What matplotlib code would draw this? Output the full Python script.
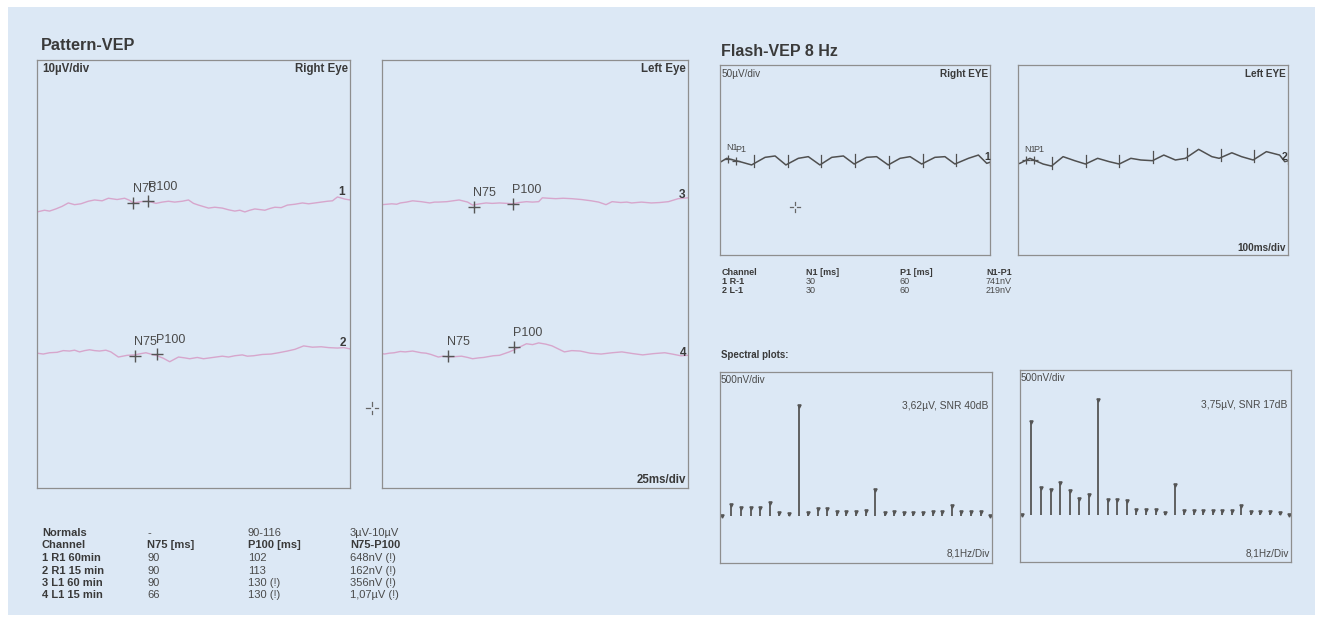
import matplotlib
matplotlib.use('Agg')
import matplotlib.pyplot as plt
import numpy as np
from matplotlib.patches import Rectangle
from matplotlib.lines import Line2D

plt.rcParams['font.family'] = ['Liberation Sans', 'DejaVu Sans']

# ---------------- data ----------------
# Pattern-VEP traces (time in ms, amplitude in uV)
PAT_T1 = [0, 6, 10, 15, 20, 25, 30, 35, 41, 46, 52, 57, 64, 70, 74, 77, 83, 89, 95, 100, 105, 110, 116, 121, 125, 129, 137, 142, 148, 153, 158, 162, 166, 170, 174, 182, 186, 190, 195, 200, 206, 212, 217, 222, 227, 232, 236, 240, 246, 250]
PAT_V1 = [-1.6, -1.2, -1.4, -0.9, -0.3, 0.5, 0.1, 0.3, 0.9, 1.2, 1.0, 1.6, 1.3, 1.6, 1.1, 0.5, 0.8, 0.9, 0.4, 0.7, 0.9, 0.7, 0.9, 1.2, 0.4, 0.0, -0.7, -0.5, -0.7, -1.1, -1.4, -1.2, -1.6, -1.2, -0.9, -1.2, -0.8, -0.5, -0.6, 0.0, 0.2, 0.5, 0.3, 0.5, 0.7, 0.9, 1.0, 1.9, 1.4, 1.2]
PAT_T2 = [0, 5, 10, 16, 21, 26, 30, 34, 38, 42, 46, 50, 55, 59, 65, 72, 78, 83, 87, 92, 96, 101, 106, 113, 118, 122, 128, 133, 138, 143, 148, 153, 158, 164, 168, 173, 180, 187, 193, 200, 206, 213, 220, 227, 233, 240, 245, 250]
PAT_V2 = [-0.3, -0.5, -0.2, -0.1, 0.3, 0.2, 0.4, 0.0, 0.3, 0.5, 0.3, 0.2, 0.4, 0.0, -1.2, -0.8, -0.7, -0.4, -0.2, -0.6, -0.9, -1.5, -2.3, -1.2, -1.4, -1.6, -1.3, -1.6, -1.4, -1.2, -1.0, -1.2, -0.9, -0.7, -1.0, -0.9, -0.6, -0.5, -0.2, 0.2, 0.6, 1.4, 1.1, 1.2, 1.0, 0.9, 1.0, 0.7]
PAT_T3 = [0, 8, 12, 15, 20, 25, 32, 39, 43, 46, 53, 58, 63, 70, 74, 80, 85, 90, 96, 102, 107, 112, 118, 123, 128, 131, 136, 142, 148, 155, 163, 171, 177, 183, 188, 195, 200, 204, 212, 220, 227, 234, 242, 250]
PAT_V3 = [-0.9, -0.7, -0.8, -0.5, -0.3, 0.0, -0.2, -0.5, -0.3, -0.3, -0.2, 0.0, 0.2, -0.3, -1.0, -0.7, -0.5, -0.6, -0.5, -0.6, -0.7, -0.4, -0.2, -0.3, -0.2, 0.7, 0.6, 0.5, 0.6, 0.5, 0.3, 0.0, -0.3, -0.9, -0.2, -0.4, -0.3, -0.5, -0.3, -0.5, -0.4, -0.2, 0.5, 0.7]
PAT_T4 = [0, 2, 6, 10, 15, 19, 25, 32, 36, 40, 46, 50, 55, 60, 65, 70, 74, 79, 83, 91, 96, 100, 104, 108, 113, 118, 123, 128, 134, 139, 144, 149, 155, 162, 170, 179, 188, 196, 205, 213, 222, 231, 237, 244, 250]
PAT_V4 = [-0.4, -0.5, -0.3, -0.2, 0.1, 0.0, 0.2, -0.2, -0.3, -0.6, -1.2, -1.0, -1.2, -1.1, -1.0, -1.3, -1.6, -1.4, -1.3, -0.9, -0.8, -0.4, 0.0, 0.5, 1.2, 1.9, 1.7, 2.1, 1.8, 1.4, 0.7, 0.0, 0.3, 0.2, -0.3, -0.5, -0.2, 0.0, -0.4, -0.7, -0.4, -0.2, -0.5, -0.9, -0.8]

# Pattern-VEP peak markers (ms, uV) for channels 1..4
N75_T = [77, 78, 75, 54]
N75_V = [0.4, -0.9, -1.4, -0.9]
P100_T = [89, 96, 107, 108]
P100_V = [1.0, -0.5, -0.7, 1.2]

# Flash-VEP traces (ms, uV)
FL_T1 = [4, 25, 74, 117, 167, 204, 244, 290, 327, 370, 414, 457, 497, 543, 580, 623, 667, 704, 747, 796, 833, 870, 920, 957, 988, 1000]
FL_V1 = [-4.4, 4.4, -4.4, -13, 7, 10.6, -13, 4.4, 8.8, -13, 7, 10.6, -10.6, 7, 8.8, -13, 4.4, 8.8, -10.6, 7, 8.8, -10.6, 4.4, 13, -8.8, -6]
FL_T2 = [0, 7, 44, 93, 124, 167, 210, 250, 295, 338, 375, 418, 455, 498, 540, 583, 620, 669, 718, 745, 792, 828, 871, 920, 969, 988, 1000]
FL_V2 = [-10, -8.8, 4.4, -10.6, -16, 8.8, -1.8, -10.6, 4.4, -4.4, -10.6, 4.4, 0, -1.8, 13, 0, 4.4, 28, 8.8, 4.4, 19, 8.8, 0, 22, 13, -4.4, -2]
FL_STIM = [125, 250, 375, 500, 625, 750, 875, 1000]
FL_N1 = 30
FL_P1 = 60

# Spectral plots (uV per bin)
SPEC_R = [0, 0.35, 0.24, 0.24, 0.26, 0.42, 0.09, 0.05, 3.62, 0.09, 0.22, 0.22, 0.11, 0.13, 0.14, 0.16, 0.86, 0.09, 0.14, 0.08, 0.08, 0.08, 0.11, 0.14, 0.33, 0.11, 0.11, 0.11, 0]
SPEC_L = [0, 3.03, 0.87, 0.81, 1.03, 0.78, 0.52, 0.65, 3.75, 0.47, 0.47, 0.43, 0.16, 0.16, 0.16, 0.05, 0.97, 0.11, 0.11, 0.11, 0.11, 0.11, 0.11, 0.29, 0.09, 0.09, 0.09, 0.05, 0]

# Tables
PAT_HEAD = ["Normals", "-", "90-116", "3µV-10µV"]
PAT_COLS = ["Channel", "N75 [ms]", "P100 [ms]", "N75-P100"]
PAT_ROWS = [["1 R1 60min", "90", "102", "648nV (!)"],
            ["2 R1 15 min", "90", "113", "162nV (!)"],
            ["3 L1 60 min", "90", "130 (!)", "356nV (!)"],
            ["4 L1 15 min", "66", "130 (!)", "1,07µV (!)"]]
FL_COLS = ["Channel", "N1 [ms]", "P1 [ms]", "N1-P1"]
FL_ROWS = [["1 R-1", "30", "60", "741nV"],
           ["2 L-1", "30", "60", "219nV"]]

# ---------------- style ----------------
W, H = 1323, 622
BG = '#dce8f5'
EDGE = '#8e8e8e'
TXT = '#3a3a3a'
TXT2 = '#4a4a4a'
PINK = '#d7a6cc'
GREY = '#555555'

fig = plt.figure(figsize=(W / 100, H / 100), dpi=100)
fig.patch.set_facecolor('white')
fig.patches.append(Rectangle((8 / W, 1 - 615 / H), (1315 - 8) / W, (615 - 7) / H,
                             transform=fig.transFigure, facecolor=BG,
                             edgecolor='none', zorder=-10))


def add_ax(x0, y0, x1, y1):
    ax = fig.add_axes([x0 / W, 1 - y1 / H, (x1 - x0) / W, (y1 - y0) / H])
    ax.set_facecolor('none')
    ax.set_xticks([])
    ax.set_yticks([])
    for s in ax.spines.values():
        s.set_color(EDGE)
        s.set_linewidth(0.9)
    return ax


def txt(x, y, s, size=7.5, weight='normal', ha='left', va='center', color=TXT):
    fig.text(x / W, 1 - y / H, s, fontsize=size, fontweight=weight,
             ha=ha, va=va, color=color)


def crosshair(x, y, g=2.5, L=6):
    segs = [((x - L, x - g), (y, y)), ((x + g, x + L), (y, y)),
            ((x, x), (y - L, y - g)), ((x, x), (y + g, y + L))]
    for xs, ys in segs:
        fig.add_artist(Line2D([xi / W for xi in xs], [1 - yi / H for yi in ys],
                              transform=fig.transFigure, color='#666666', lw=0.9))


# ---------------- Pattern-VEP ----------------
txt(41, 46, "Pattern-VEP", size=11.7, weight='bold')
ax_pr = add_ax(37, 60, 350, 488)
ax_pl = add_ax(382, 60, 688, 488)
for ax in (ax_pr, ax_pl):
    ax.set_xlim(0, 250)
    ax.set_ylim(0, 100)

traces = [(ax_pr, PAT_T1, PAT_V1, 66.1), (ax_pr, PAT_T2, PAT_V2, 31.8),
          (ax_pl, PAT_T3, PAT_V3, 67.1), (ax_pl, PAT_T4, PAT_V4, 31.8)]
for i, (ax, t, v, off) in enumerate(traces):
    ax.plot(t, np.array(v) + off, color=PINK, lw=1.0)
    for name, tt, vv in (("N75", N75_T[i], N75_V[i]), ("P100", P100_T[i], P100_V[i])):
        ax.plot([tt], [vv + off], ls='none', marker='+', ms=9, mew=1.0, color=GREY)
        ax.annotate(name, (tt, vv + off), xytext=(-0.5, 10), textcoords='offset points',
                    fontsize=9, ha='left', va='center', color=TXT2)

txt(42, 69, "10µV/div", size=8.3, weight='bold')
txt(348, 69, "Right Eye", size=8.3, weight='bold', ha='right')
txt(686, 69, "Left Eye", size=8.3, weight='bold', ha='right')
txt(686, 480, "25ms/div", size=8.3, weight='bold', ha='right')
for lab, x, y in (("1", 342, 192), ("2", 343, 343), ("3", 682, 195), ("4", 683, 353)):
    txt(x, y, lab, size=8.5, weight='bold', ha='center')

crosshair(372, 408)

# pattern table
cols_x = [42, 147, 248, 350]
rows_y = [533, 545.5, 558, 570.5, 583, 595.5]
for j, s in enumerate(PAT_HEAD):
    txt(cols_x[j], rows_y[0], s, size=8, weight='bold' if j == 0 else 'normal',
        color=TXT if j == 0 else TXT2)
for j, s in enumerate(PAT_COLS):
    txt(cols_x[j], rows_y[1], s, size=8, weight='bold')
for r, row in enumerate(PAT_ROWS):
    for j, s in enumerate(row):
        txt(cols_x[j], rows_y[r + 2], s, size=8, weight='bold' if j == 0 else 'normal',
            color=TXT if j == 0 else TXT2)

# ---------------- Flash-VEP ----------------
txt(721, 52, "Flash-VEP 8 Hz", size=11.5, weight='bold')
ax_fr = add_ax(720, 65, 990, 255)
ax_fl = add_ax(1018, 65, 1288, 255)
for ax, t, v in ((ax_fr, FL_T1, FL_V1), (ax_fl, FL_T2, FL_V2)):
    ax.set_xlim(0, 1000)
    ax.set_ylim(-250, 250)
    ax.plot(t, v, color='#505050', lw=1.1)
    for s in FL_STIM:
        vv = np.interp(s, t, v)
        ax.plot([s, s], [vv - 8, vv + 24], color='#505050', lw=0.9)
    vn = np.interp(FL_N1, t, v)
    vp = np.interp(FL_P1, t, v)
    ax.plot([FL_N1, FL_P1], [vn, vp], ls='none', marker='+', ms=6, mew=0.9, color='#505050')
    ax.annotate("N1", (FL_N1, vn), xytext=(-1, 8), textcoords='offset points',
                fontsize=6.5, ha='left', va='center', color=TXT2)
    ax.annotate("P1", (FL_P1, vp), xytext=(-1, 8), textcoords='offset points',
                fontsize=6.5, ha='left', va='center', color=TXT2)

txt(722, 74, "50µV/div", size=7.2, color=TXT2)
txt(988, 74, "Right EYE", size=7.2, weight='bold', ha='right')
txt(1286, 74, "Left EYE", size=7.2, weight='bold', ha='right')
txt(1286, 248, "100ms/div", size=7.2, weight='bold', ha='right')
txt(987, 157, "1", size=7.5, weight='bold', ha='center')
txt(1285, 157, "2", size=7.5, weight='bold', ha='center')
crosshair(795, 207, g=2, L=5)

fx = [722, 806, 900, 986]
fy = [272.5, 281.5, 290.5]
for j, s in enumerate(FL_COLS):
    txt(fx[j], fy[0], s, size=6.5, weight='bold')
for r, row in enumerate(FL_ROWS):
    for j, s in enumerate(row):
        txt(fx[j], fy[r + 1], s, size=6.5, weight='bold' if j == 0 else 'normal',
            color=TXT if j == 0 else TXT2)

txt(721, 355, "Spectral plots:", size=7, weight='bold')

ax_sr = add_ax(720, 372, 992, 563)
ax_sl = add_ax(1020, 370, 1291, 562)
for ax, vals in ((ax_sr, SPEC_R), (ax_sl, SPEC_L)):
    idx = np.arange(len(vals))
    ax.set_xlim(-0.2, len(vals) - 0.8)
    ax.set_ylim(-1.55, 4.72)
    ax.vlines(idx, 0, vals, color='#555555', lw=1.3)
    ax.plot(idx, vals, ls='none', marker='v', ms=2.3, color='#555555')

txt(721, 380, "500nV/div", size=7.2, color=TXT2)
txt(988, 406, "3,62µV, SNR 40dB", size=7.4, color=TXT2, ha='right')
txt(990, 553, "8,1Hz/Div", size=7.2, color=TXT2, ha='right')
txt(1021, 378, "500nV/div", size=7.2, color=TXT2)
txt(1287, 405, "3,75µV, SNR 17dB", size=7.4, color=TXT2, ha='right')
txt(1289, 553, "8,1Hz/Div", size=7.2, color=TXT2, ha='right')

fig.savefig('out.png', dpi=100, facecolor=fig.get_facecolor())
